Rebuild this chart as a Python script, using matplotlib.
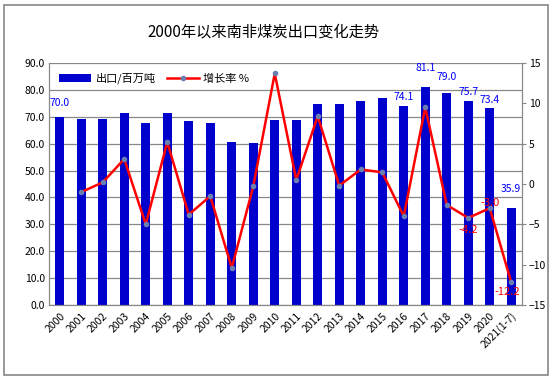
import numpy as np
import matplotlib
matplotlib.use("Agg")
import matplotlib.pyplot as plt
from matplotlib.patches import Rectangle

plt.rcParams["font.family"] = ["Noto Sans CJK SC", "DejaVu Sans"]

# %% Data
years = ["2000", "2001", "2002", "2003", "2004", "2005", "2006", "2007",
         "2008", "2009", "2010", "2011", "2012", "2013", "2014", "2015",
         "2016", "2017", "2018", "2019", "2020", "2021(1-7)"]
exports = [70.0, 69.2, 69.2, 71.5, 67.7, 71.5, 68.5, 67.7, 60.6, 60.2, 68.8,
           68.8, 74.7, 74.7, 75.8, 77.0, 74.1, 81.1, 79.0, 75.7, 73.4, 35.9]
growth = [np.nan, -1.0, 0.2, 3.1, -5.0, 5.2, -3.8, -1.5, -10.4, -0.3, 13.7,
          0.5, 8.4, -0.2, 1.8, 1.45, -4.0, 9.5, -2.6, -4.2, -3.0, -12.2]

bar_labels = {0: 70.0, 16: 74.1, 17: 81.1, 18: 79.0, 19: 75.7, 20: 73.4, 21: 35.9}
bar_label_dy = {0: 10, 16: 6, 17: 13.7, 18: 11, 19: 7, 20: 5.5, 21: 14}
line_labels = {19: -4.2, 20: -3.0, 21: -12.2}
line_label_off = {19: (0, -9), 20: (0, 3.8), 21: (-2.5, -6.6)}

# %% Plot
fig = plt.figure(figsize=(5.54, 3.83), dpi=100)
fig.patches.append(Rectangle((4 / 554, 1 - 375 / 383), 544 / 554, 370 / 383,
                             transform=fig.transFigure, fill=False,
                             edgecolor="#888888", lw=1.2))
ax = fig.add_axes([49 / 554, 1 - 305 / 383, 473 / 554, 242 / 383])
ax2 = ax.twinx()

x = np.arange(len(years))
bars = ax.bar(x, exports, width=0.43, color="#0000CC", label="出口/百万吨", zorder=2)
ax.set_xlim(-0.5, len(years) - 0.5)
ax.set_ylim(0, 90)
ax.set_yticks(np.arange(0, 91, 10))
ax.set_yticklabels([f"{v:.1f}" for v in np.arange(0, 91, 10)], fontsize=7.5)
ax.grid(axis="y", color="#888888", lw=0.9, zorder=0)
ax.set_axisbelow(True)
ax.set_xticks(x)
ax.set_xticklabels(years, rotation=45, ha="right", rotation_mode="anchor",
                   fontsize=7.5)
ax.tick_params(axis="x", length=0, pad=4)
ax.tick_params(axis="y", length=0, pad=3)

line, = ax2.plot(x, growth, "-", color="#FF0000", lw=1.8, marker="o", ms=3,
                 mfc="#6A7FB0", mec="#6A7FB0", label="增长率 %", zorder=3)
ax2.set_ylim(-15, 15)
ax2.set_yticks(np.arange(-15, 16, 5))
ax2.tick_params(axis="y", labelsize=7.5, length=3, color="#888888", pad=2)

for a in (ax, ax2):
    for sp in a.spines.values():
        sp.set_color("#888888")
    a.spines["top"].set_visible(False)

for i, v in bar_labels.items():
    ax.annotate(f"{v:.1f}", (x[i], exports[i]), xytext=(0, bar_label_dy[i]),
                textcoords="offset points", ha="center", va="center",
                fontsize=7.5, color="#0000FF")
for i, v in line_labels.items():
    ax2.annotate(f"{v:.1f}", (x[i], growth[i]), xytext=line_label_off[i],
                 textcoords="offset points", ha="center", va="center",
                 fontsize=8, color="#FF0000")

ax.legend(handles=[bars, line], loc="upper left", ncol=2, frameon=False,
          fontsize=8, bbox_to_anchor=(0.0, 1.0), handlelength=2.9,
          columnspacing=1.0, handletextpad=0.4)

fig.text(264 / 554, 1 - 32 / 383, "2000年以来南非煤炭出口变化走势",
         ha="center", va="center", fontsize=11)

fig.savefig("out.png", dpi=100)
